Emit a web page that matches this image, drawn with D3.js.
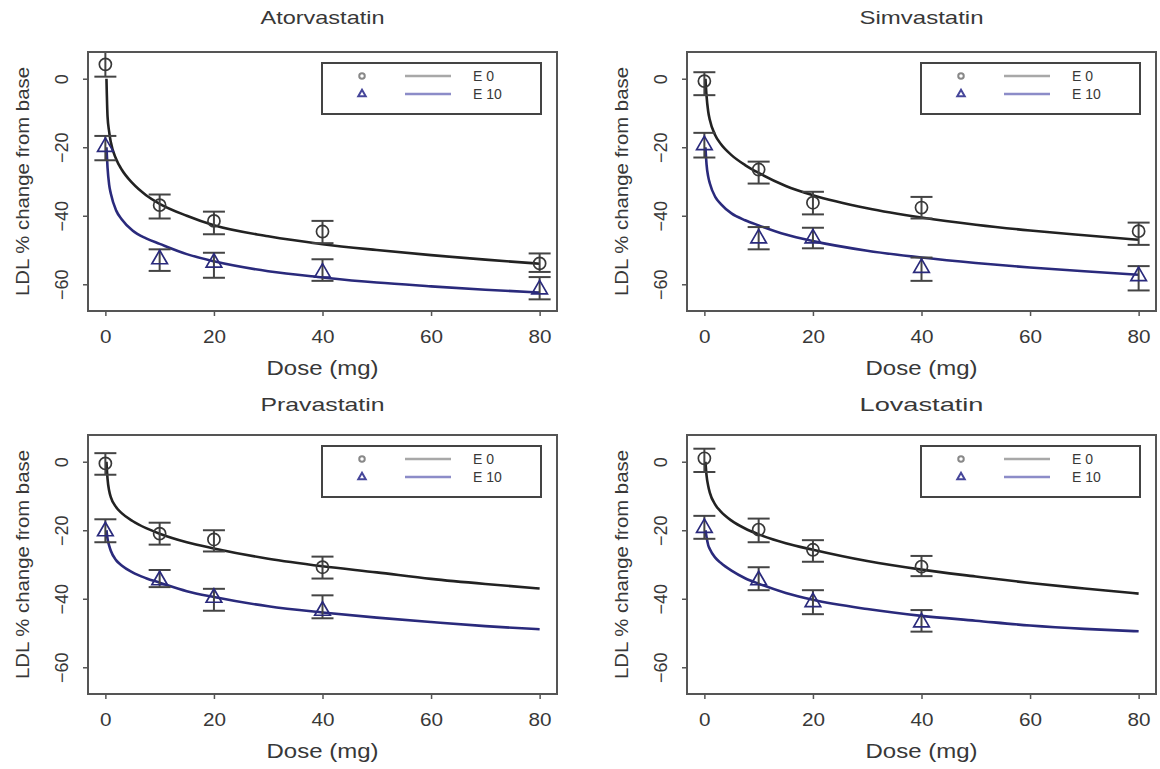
<!DOCTYPE html>
<html>
<head>
<meta charset="utf-8">
<script src="https://cdn.jsdelivr.net/npm/d3@7"></script>
<style>
  body { margin: 0; background: #fff; }
  svg { display: block; font-family: "Liberation Sans", Arial, sans-serif; }
</style>
</head>
<body>
<svg id="chart" width="1160" height="769"></svg>
<script>
// panels, in drawing order
const drugs = ["Atorvastatin", "Simvastatin", "Pravastatin", "Lovastatin"];
const doses = [0, 10, 20, 40, 80];
const xTicks = [0, 20, 40, 60, 80];
const yTicks = [0, -20, -40, -60];
const legendLabels = ["E 0", "E 10"];

// observed means and error bar ends (null = no point)
const e0Mean = [
  [4.2, -36.9, -41.5, -44.6, -53.9],
  [-0.7, -26.5, -36.2, -37.6, -44.5],
  [-0.5, -21.0, -22.7, -30.8, null],
  [1.0, -19.8, -25.7, -30.6, null]
];
const e0Lo = [
  [0.6, -40.8, -45.4, -48.0, -56.4],
  [-4.8, -30.6, -39.6, -40.8, -48.5],
  [-3.8, -24.2, -26.2, -34.1, null],
  [-3.0, -23.5, -29.2, -33.4, null]
];
const e0Hi = [
  [7.8, -33.8, -38.8, -41.5, -51.0],
  [1.9, -24.2, -33.0, -34.5, -42.0],
  [2.5, -17.8, -20.0, -27.7, null],
  [3.8, -16.6, -22.9, -27.5, null]
];
const e10Mean = [
  [-19.9, -52.7, -53.7, -56.6, -61.5],
  [-19.4, -46.6, -46.6, -55.2, -57.6],
  [-20.3, -34.6, -39.7, -43.5, null],
  [-19.3, -34.6, -41.0, -46.9, null]
];
const e10Lo = [
  [-23.8, -56.1, -58.1, -59.0, -64.4],
  [-23.0, -49.8, -49.5, -59.0, -61.8],
  [-23.5, -36.6, -43.5, -45.7, null],
  [-22.5, -37.5, -44.5, -49.6, null]
];
const e10Hi = [
  [-16.7, -49.8, -50.8, -52.7, -57.9],
  [-15.8, -43.3, -43.5, -52.2, -54.7],
  [-16.8, -31.6, -37.1, -39.0, null],
  [-15.8, -30.8, -37.5, -43.3, null]
];

// fitted curves
const curveDose = [0.2, 0.4, 0.7, 1, 2, 3, 5, 7.5, 10, 15, 20, 30, 40, 50, 60, 70, 80];
const curveE0 = [
  [0, -11, -15.5, -18.5, -23.5, -26.5, -30.5, -34, -36.5, -40, -42.8, -46, -48.3, -50, -51.5, -52.8, -54],
  [0, -5, -9.5, -12, -16.5, -19, -22.3, -25.2, -27.5, -31.3, -34, -37.8, -40.5, -42.6, -44.3, -45.7, -47],
  [0, -5, -8.5, -10.3, -13.3, -15, -17.3, -19.4, -21, -23.5, -25.3, -28.3, -30.5, -32.3, -34.2, -35.7, -37],
  [0, -4, -7, -9, -12.5, -14.5, -17.2, -19.5, -21.2, -23.8, -25.7, -29, -31.5, -33.5, -35.4, -37, -38.5]
];
const curveE10 = [
  [-20, -26, -31, -33.5, -38.5, -41, -44.3, -46.6, -48.2, -51.2, -53.3, -56.2, -58, -59.5, -60.6, -61.6, -62.4],
  [-20, -25, -28.5, -30.5, -34.5, -36.5, -39.3, -41.3, -42.8, -45.5, -47.4, -50.2, -52.2, -53.8, -55.1, -56.2, -57.2],
  [-20, -22.5, -24.5, -26, -28.8, -30.3, -32.3, -34, -35.3, -37.8, -39.5, -42.2, -44, -45.5, -46.8, -48, -48.9],
  [-20, -22, -24.3, -25.5, -28, -29.5, -31.8, -34, -35.6, -38.3, -40.3, -43, -45, -46.4, -47.8, -48.8, -49.5]
];

const svg = d3.select("#chart");
const boxW = 469, boxH = 259;
const origins = [[88, 52], [687, 52], [88, 435], [687, 435]];
const titleGap = [-28, -28, -24, -24];
const ink = "#383838", blue = "#2a2a7c";

drugs.forEach(function (drug, i) {
  const [ox, oy] = origins[i];
  const g = svg.append("g").attr("transform", `translate(${ox},${oy})`);

  const x = d3.scaleLinear().domain([-3.2, 83.2]).range([0, boxW]);
  const y = d3.scaleLinear().domain([-67.8, 7.8]).range([boxH, 0]);

  // axes
  const xAxis = g.append("g").attr("transform", `translate(0,${boxH})`)
    .call(d3.axisBottom(x).tickValues(xTicks).tickSize(5).tickPadding(14));
  xAxis.select(".domain").remove();
  xAxis.selectAll("line").attr("stroke", "#555").attr("stroke-width", 1.5);
  xAxis.selectAll("text").attr("font-size", 18).attr("fill", ink)
    .attr("transform", "scale(1.15,1)");

  const yAxis = g.append("g")
    .call(d3.axisLeft(y).tickValues(yTicks).tickSize(5).tickFormat(d3.format("d")));
  yAxis.select(".domain").remove();
  yAxis.selectAll("line").attr("stroke", "#555").attr("stroke-width", 1.5);
  yAxis.selectAll("text")
    .attr("font-size", 18).attr("fill", ink)
    .attr("text-anchor", "middle").attr("x", null)
    .attr("transform", "translate(-26,0) rotate(-90)")
    .attr("dy", "0.35em");

  // curves
  const line = d3.line()
    .x(function (d) { return x(d[0]); })
    .y(function (d) { return y(d[1]); })
    .curve(d3.curveMonotoneX);
  const clipId = "clip" + i;
  g.append("clipPath").attr("id", clipId)
    .append("rect").attr("width", boxW).attr("height", boxH);
  const plot = g.append("g").attr("clip-path", `url(#${clipId})`);

  [[curveE0[i], "#222"], [curveE10[i], blue]].forEach(function ([vals, col]) {
    plot.append("path")
      .datum(curveDose.map(function (d, k) { return [d, vals[k]]; }))
      .attr("d", line)
      .attr("fill", "none").attr("stroke", col).attr("stroke-width", 2.6);
  });

  // error bars and points
  function points(mean, lo, hi, shape, col) {
    const rows = doses.map(function (d, k) {
      return { d: d, m: mean[i][k], lo: lo[i][k], hi: hi[i][k] };
    }).filter(function (r) { return r.m !== null; });

    const eb = g.append("g").attr("stroke", "#444").attr("stroke-width", 2);
    rows.forEach(function (r) {
      eb.append("line").attr("x1", x(r.d)).attr("x2", x(r.d)).attr("y1", y(r.lo)).attr("y2", y(r.hi));
      eb.append("line").attr("x1", x(r.d) - 11).attr("x2", x(r.d) + 11).attr("y1", y(r.lo)).attr("y2", y(r.lo));
      eb.append("line").attr("x1", x(r.d) - 11).attr("x2", x(r.d) + 11).attr("y1", y(r.hi)).attr("y2", y(r.hi));
    });

    g.append("g").selectAll("path").data(rows).join("path")
      .attr("d", d3.symbol().type(shape).size(shape === d3.symbolCircle ? 115 : 105))
      .attr("transform", function (r) { return `translate(${x(r.d)},${y(r.m)})`; })
      .attr("fill", "none").attr("stroke", col).attr("stroke-width", 1.7);
  }
  points(e0Mean, e0Lo, e0Hi, d3.symbolCircle, ink);
  points(e10Mean, e10Lo, e10Hi, d3.symbolTriangle, blue);

  // frame
  g.append("rect").attr("width", boxW).attr("height", boxH)
    .attr("fill", "none").attr("stroke", "#555").attr("stroke-width", 2);

  // legend
  const lg = g.append("g").attr("transform", `translate(${boxW - 235},11)`);
  lg.append("rect").attr("width", 219).attr("height", 51)
    .attr("fill", "#fff").attr("stroke", "#444").attr("stroke-width", 2);
  const legCol = [["#888", "#a8a8a8", d3.symbolCircle], ["#46469a", "#8c8cc8", d3.symbolTriangle]];
  legendLabels.forEach(function (lab, k) {
    const ly = 13 + k * 18;
    lg.append("path").attr("d", d3.symbol().type(legCol[k][2]).size(24))
      .attr("transform", `translate(40,${ly})`)
      .attr("fill", "none").attr("stroke", legCol[k][0]).attr("stroke-width", 2);
    lg.append("line").attr("x1", 83).attr("x2", 129).attr("y1", ly).attr("y2", ly)
      .attr("stroke", legCol[k][1]).attr("stroke-width", 2.5);
    lg.append("text").attr("x", 151).attr("y", ly).attr("dy", "0.36em")
      .attr("font-size", 14).attr("fill", ink).text(lab);
  });

  // titles
  g.append("text").attr("x", boxW / 2).attr("y", titleGap[i])
    .attr("text-anchor", "middle").attr("font-size", 19).attr("fill", ink)
    .attr("textLength", 124).attr("lengthAdjust", "spacingAndGlyphs").text(drug);
  g.append("text").attr("x", boxW / 2).attr("y", boxH + 64)
    .attr("text-anchor", "middle").attr("font-size", 20).attr("fill", ink)
    .attr("textLength", 112).attr("lengthAdjust", "spacingAndGlyphs").text("Dose (mg)");
  g.append("text").attr("transform", `translate(-59,${boxH / 2}) rotate(-90)`)
    .attr("text-anchor", "middle").attr("font-size", 19).attr("fill", ink)
    .attr("textLength", 229).attr("lengthAdjust", "spacingAndGlyphs")
    .text("LDL % change from base");
});
</script>
</body>
</html>
